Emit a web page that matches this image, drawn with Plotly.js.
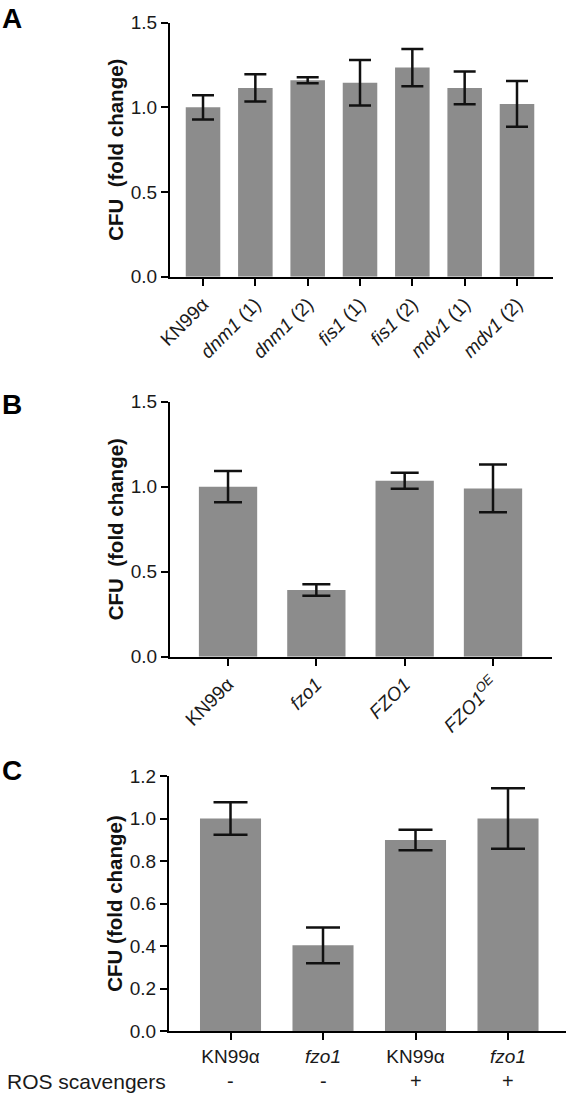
<!DOCTYPE html>
<html><head><meta charset="utf-8">
<script src="https://cdn.plot.ly/plotly-3.0.1.min.js"></script>
<style>html,body{margin:0;padding:0;background:#fff}#chart{width:566px;height:1095px}</style>
</head><body><div id="chart"></div>
<script>
// Panel A
const catsA = ['KN99α', '<i>dnm1</i> (1)', '<i>dnm1</i> (2)', '<i>fis1</i> (1)', '<i>fis1</i> (2)', '<i>mdv1</i> (1)', '<i>mdv1</i> (2)'];
const valsA = [1.0, 1.115, 1.16, 1.145, 1.235, 1.115, 1.02];
const errA  = [0.072, 0.08, 0.018, 0.134, 0.11, 0.097, 0.135];
const ticksA = [0, 0.5, 1.0, 1.5];
// Panel B
const catsB = ['KN99α', '<i>fzo1</i>', '<i>FZO1</i>', '<i>FZO1<sup>OE</sup></i>'];
const valsB = [1.0, 0.392, 1.035, 0.99];
const errB  = [0.092, 0.034, 0.047, 0.141];
const ticksB = [0, 0.5, 1.0, 1.5];
// Panel C
const catsC = ['KN99α', '<i>fzo1</i>', 'KN99α', '<i>fzo1</i>'];
const rosC  = ['-', '-', '+', '+'];
const valsC = [1.0, 0.403, 0.899, 1.0];
const errC  = [0.077, 0.084, 0.048, 0.142];
const ticksC = [0, 0.2, 0.4, 0.6, 0.8, 1.0, 1.2];
const rowLabelC = 'ROS scavengers';
const panelLetters = ['A', 'B', 'C'];
const yTitleAB = 'CFU\u00a0 (fold change)';
const yTitleC = 'CFU (fold change)';

const W = 566, H = 1095;
const px = v => v / W;
const py = v => 1 - v / H;
const FONT = 'Liberation Sans, Arial, sans-serif';
const barColor = '#8c8c8c';

function idx(a) { return a.map((_, i) => i); }

function barTrace(vals, errs, xa, ya, capw) {
  return {
    type: 'bar', x: idx(vals), y: vals, xaxis: xa, yaxis: ya,
    marker: { color: barColor, line: { width: 0 } },
    error_y: { type: 'data', array: errs, visible: true, color: '#111', thickness: 2.5, width: capw },
    showlegend: false, hoverinfo: 'skip'
  };
}

const data = [
  barTrace(valsA, errA, 'x', 'y', 11),
  barTrace(valsB, errB, 'x2', 'y2', 14),
  barTrace(valsC, errC, 'x3', 'y3', 17)
];

function xAxis(cats, range, domain, angle, anchor) {
  return {
    domain: domain, range: range, anchor: anchor,
    tickmode: 'array', tickvals: idx(cats), ticktext: cats, tickangle: angle,
    showline: true, linecolor: '#000', linewidth: 2,
    ticks: 'outside', ticklen: 7, tickwidth: 2, tickcolor: '#000',
    showgrid: false, zeroline: false, fixedrange: true,
    tickfont: { family: FONT, size: 19, color: '#1a1a1a' }
  };
}
function yAxis(ticks, domain, title, anchor) {
  return {
    domain: domain, range: [0, ticks[ticks.length - 1]], anchor: anchor,
    tickmode: 'array', tickvals: ticks, tickformat: '.1f',
    showline: true, linecolor: '#000', linewidth: 2,
    ticks: 'outside', ticklen: 7, tickwidth: 2, tickcolor: '#000',
    showgrid: false, zeroline: false, fixedrange: true,
    tickfont: { family: FONT, size: 19, color: '#1a1a1a' },
    title: { text: '<b>' + title + '</b>', font: { family: FONT, size: 20.5, color: '#111' }, standoff: 2 }
  };
}

const annotations = [];
const letterY = [1, 387, 753];
panelLetters.forEach((L, i) => annotations.push({
  text: '<b>' + L + '</b>', xref: 'paper', yref: 'paper', x: px(0), y: py(letterY[i]),
  xanchor: 'left', yanchor: 'top', showarrow: false,
  font: { family: FONT, size: 28, color: '#000' }
}));
rosC.forEach((s, i) => annotations.push({
  text: s, xref: 'x3', yref: 'paper', x: i, y: py(1081), xanchor: 'center', yanchor: 'middle',
  showarrow: false, font: { family: FONT, size: 20, color: '#1a1a1a' }
}));
annotations.push({
  text: rowLabelC, xref: 'paper', yref: 'paper', x: px(5), y: py(1081), xanchor: 'left', yanchor: 'middle',
  showarrow: false, font: { family: FONT, size: 21, color: '#1a1a1a' }
});

const layout = {
  width: W, height: H, margin: { l: 0, r: 0, t: 0, b: 0 },
  paper_bgcolor: '#fff', plot_bgcolor: '#fff', bargap: 0.34, showlegend: false,
  xaxis:  xAxis(catsA, [-0.631, 6.688], [px(170), px(553)], -45, 'y'),
  yaxis:  yAxis(ticksA, [py(276.7), py(22.7)], yTitleAB, 'x'),
  xaxis2: xAxis(catsB, [-0.657, 3.668], [px(170), px(552)], -45, 'y2'),
  yaxis2: yAxis(ticksB, [py(656.7), py(401.7)], yTitleAB, 'x2'),
  xaxis3: xAxis(catsC, [-0.665, 3.627], [px(169), px(566)], 0, 'y3'),
  yaxis3: yAxis(ticksC, [py(1031), py(776)], yTitleC, 'x3'),
  annotations: annotations
};

Plotly.newPlot('chart', data, layout, { staticPlot: true, displayModeBar: false });
</script>
</body></html>
